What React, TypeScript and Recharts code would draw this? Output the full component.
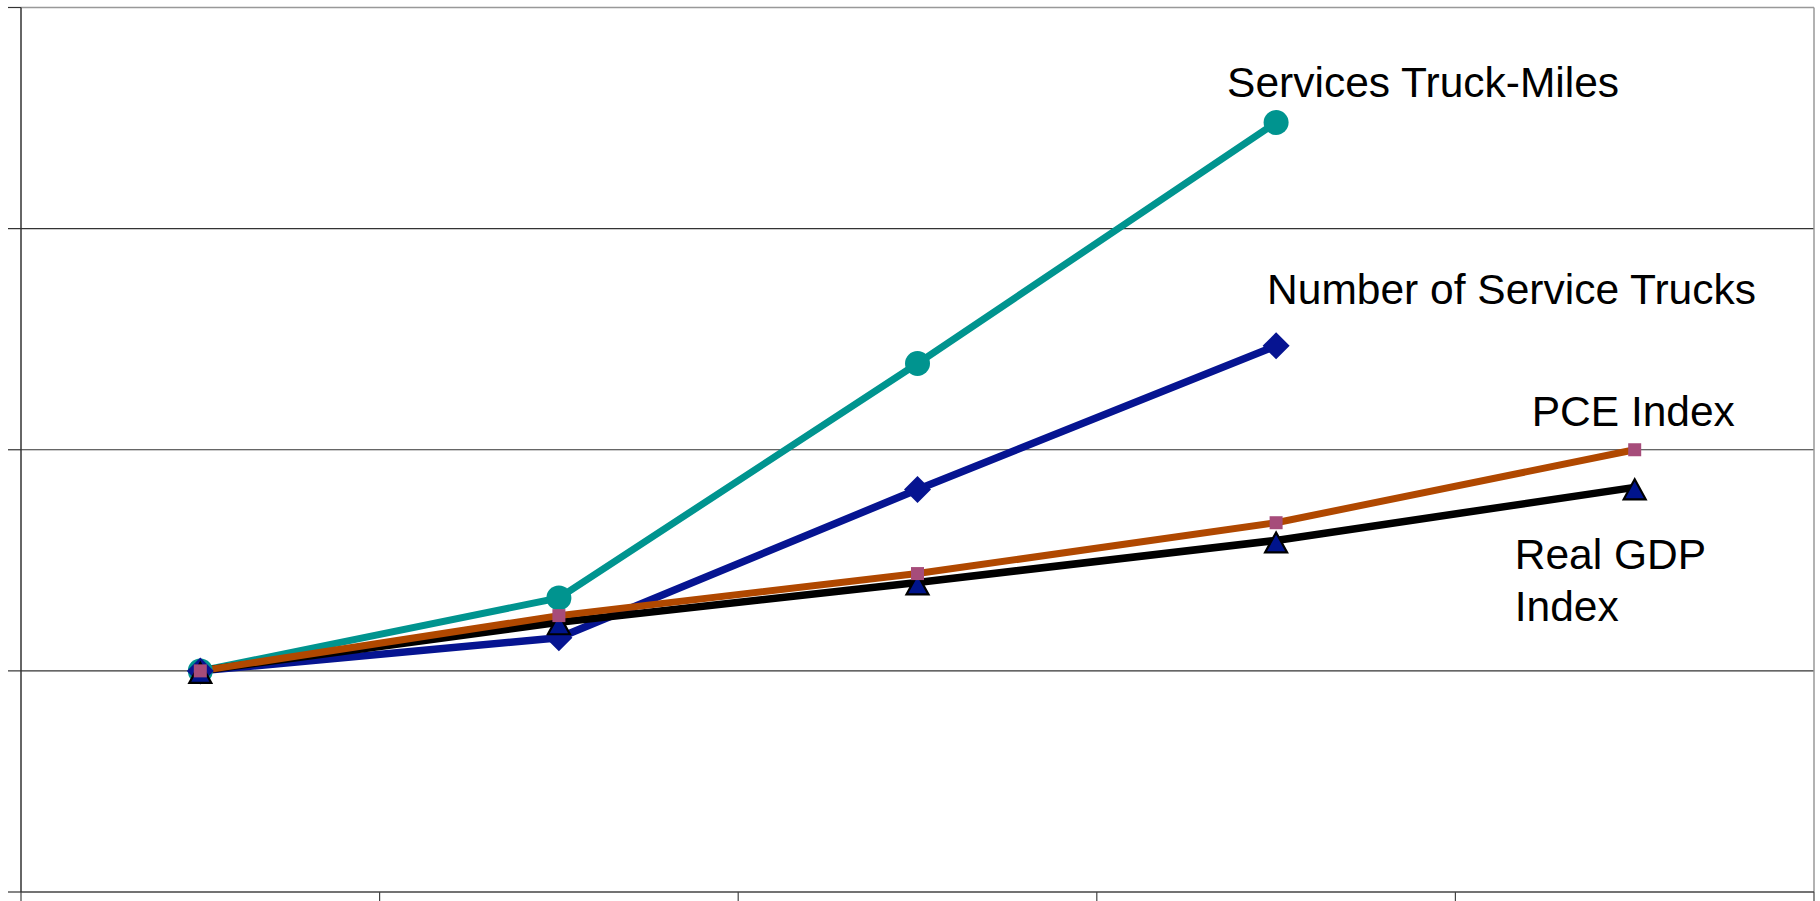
import React from 'react';
import { LineChart, Line, XAxis, YAxis, CartesianGrid, ReferenceLine, LabelList } from 'recharts';

// index values per survey period (first period = 1.0)
const periods = ['Period 1', 'Period 2', 'Period 3', 'Period 4', 'Period 5'];
const serviceTruckMiles = [1.0, 1.033, 1.139, 1.248, null];
const serviceTrucks = [1.0, 1.015, 1.082, 1.147, null];
const pceIndex = [1.0, 1.025, 1.044, 1.067, 1.1];
const realGdpIndex = [1.0, 1.022, 1.04, 1.059, 1.083];

const yTicks = [0.9, 1.0, 1.1, 1.2, 1.3];
const innerGrid = [1.0, 1.1, 1.2];
// tick marks sit between categories, so x runs over category slots 0..5
const slotTicks = [0, 1, 2, 3, 4, 5];

const data = periods.map((period, i) => ({
  period,
  slot: i + 0.5,
  truckMiles: serviceTruckMiles[i],
  trucks: serviceTrucks[i],
  pce: pceIndex[i],
  gdp: realGdpIndex[i],
}));

const TEAL = '#00948F';
const NAVY = '#061491';
const RUST = '#B04800';
const PLUM = '#A64C7A';
const BLACK = '#000000';
const FONT = '"Liberation Sans", Arial, Helvetica, sans-serif';

const lastIndexOf = (arr: (number | null)[]) => arr.reduce((acc: number, v, i) => (v == null ? acc : i), -1);

const CircleDot = (props: any) => {
  const { cx, cy } = props;
  if (cx == null || cy == null) return null;
  return <circle cx={cx} cy={cy} r={12.5} fill={TEAL} />;
};

const DiamondDot = (props: any) => {
  const { cx, cy } = props;
  if (cx == null || cy == null) return null;
  const s = 13.5;
  return <polygon points={`${cx},${cy - s} ${cx + s},${cy} ${cx},${cy + s} ${cx - s},${cy}`} fill={NAVY} />;
};

const SquareDot = (props: any) => {
  const { cx, cy } = props;
  if (cx == null || cy == null) return null;
  const s = 6.5;
  return <rect x={cx - s} y={cy - s} width={s * 2} height={s * 2} fill={PLUM} />;
};

// triangle sits slightly low on its point, as spreadsheet markers do
const TriangleDot = (props: any) => {
  const { cx, cy } = props;
  if (cx == null || cy == null) return null;
  const w = 11;
  return (
    <polygon
      points={`${cx},${cy - 8} ${cx + w},${cy + 12} ${cx - w},${cy + 12}`}
      fill="#00148C"
      stroke={BLACK}
      strokeWidth={2.2}
      strokeLinejoin="miter"
    />
  );
};

// series name placed next to the final point of its line
function endLabel(lines: string[], lastIndex: number, dx: number, dy: number) {
  return (props: any) => {
    if (props.index !== lastIndex) return null;
    const vb = props.viewBox || {};
    const x = (props.x ?? vb.x) + dx;
    const y = (props.y ?? vb.y) + dy;
    return (
      <text x={x} y={y} fontSize={42.5} fontFamily={FONT} fill="#000">
        {lines.map((line, k) => (
          <tspan key={k} x={x} dy={k === 0 ? 0 : 52}>
            {line}
          </tspan>
        ))}
      </text>
    );
  };
}

export default function App() {
  return (
    <div style={{ position: 'absolute', left: 0, top: 0, background: '#fff' }}>
      <LineChart width={1820} height={901} data={data} margin={{ top: 7.5, right: 6, bottom: 0, left: 0 }}>
        <CartesianGrid vertical={false} horizontalValues={innerGrid} stroke="#333" strokeWidth={1.2} />
        <ReferenceLine y={1.3} stroke="#999" strokeWidth={1.5} />
        <ReferenceLine x={5} stroke="#999" strokeWidth={1.5} />
        <XAxis
          type="number"
          dataKey="slot"
          domain={[0, 5]}
          ticks={slotTicks}
          interval={0}
          height={9}
          tickSize={9}
          tickFormatter={() => ''}
          axisLine={{ stroke: '#444', strokeWidth: 1.5 }}
          tickLine={{ stroke: '#444', strokeWidth: 1.2 }}
        />
        <YAxis
          domain={[0.9, 1.3]}
          ticks={yTicks}
          width={21}
          tickSize={13}
          tickFormatter={() => ''}
          axisLine={{ stroke: '#333', strokeWidth: 1.5 }}
          tickLine={{ stroke: '#333', strokeWidth: 1.2 }}
        />
        <Line
          type="linear"
          dataKey="truckMiles"
          stroke={TEAL}
          strokeWidth={7}
          dot={<CircleDot />}
          activeDot={false}
          isAnimationActive={false}
        >
          <LabelList dataKey="truckMiles" content={endLabel(['Services Truck-Miles'], lastIndexOf(serviceTruckMiles), -49, -25)} />
        </Line>
        <Line
          type="linear"
          dataKey="trucks"
          stroke={NAVY}
          strokeWidth={7.5}
          dot={<DiamondDot />}
          activeDot={false}
          isAnimationActive={false}
        >
          <LabelList dataKey="trucks" content={endLabel(['Number of Service Trucks'], lastIndexOf(serviceTrucks), -9, -42)} />
        </Line>
        <Line
          type="linear"
          dataKey="gdp"
          stroke={BLACK}
          strokeWidth={7.5}
          dot={<TriangleDot />}
          activeDot={false}
          isAnimationActive={false}
        >
          <LabelList dataKey="gdp" content={endLabel(['Real GDP', 'Index'], lastIndexOf(realGdpIndex), -120, 82)} />
        </Line>
        <Line
          type="linear"
          dataKey="pce"
          stroke={RUST}
          strokeWidth={7}
          dot={<SquareDot />}
          activeDot={false}
          isAnimationActive={false}
        >
          <LabelList dataKey="pce" content={endLabel(['PCE Index'], lastIndexOf(pceIndex), -103, -24)} />
        </Line>
      </LineChart>
    </div>
  );
}
